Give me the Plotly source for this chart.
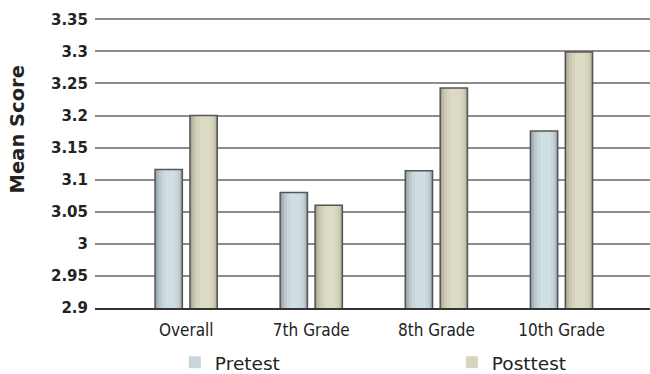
import plotly.graph_objects as go

# Mean scores by group, before and after the program
categories = ["Overall", "7th Grade", "8th Grade", "10th Grade"]
pretest = [3.116, 3.080, 3.114, 3.176]
posttest = [3.200, 3.060, 3.243, 3.299]

y_ticks = [2.9, 2.95, 3.0, 3.05, 3.1, 3.15, 3.2, 3.25, 3.3, 3.35]
y_tick_text = ["2.9", "2.95", "3", "3.05", "3.1", "3.15", "3.2", "3.25", "3.3", "3.35"]

BAR_W = 0.218          # bar width in category units
PRE_OFFSET = -0.249    # left edge of the pretest bar relative to category centre
POST_OFFSET = 0.030    # left edge of the posttest bar

# horizontal shading bands: (left fraction, right fraction, colour)
pre_shades = [
    (0.00, 1.00, "#93a1a8"),
    (0.06, 0.96, "#a9b7bd"),
    (0.14, 0.92, "#bbc9cf"),
    (0.24, 0.86, "#c8d6dc"),
    (0.36, 0.74, "#d0dde3"),
]
post_shades = [
    (0.00, 1.00, "#a6a48e"),
    (0.06, 0.96, "#bcbaa3"),
    (0.14, 0.92, "#cbc9b1"),
    (0.24, 0.86, "#d6d4bd"),
    (0.36, 0.74, "#dddbc5"),
]

fig = go.Figure()


def add_series(name, values, offset, shades, legend_idx):
    for i, (lo, hi, color) in enumerate(shades):
        fig.add_trace(go.Bar(
            x=categories, y=values,
            width=BAR_W * (hi - lo), offset=offset + BAR_W * lo,
            marker=dict(color=color, line=dict(width=0)),
            name=name, legendgroup=name,
            showlegend=(i == legend_idx),
            hoverinfo="skip" if i != 0 else None,
        ))
    # outline drawn on top of the shading
    fig.add_trace(go.Bar(
        x=categories, y=values, width=BAR_W, offset=offset,
        marker=dict(color="rgba(0,0,0,0)", line=dict(color="#555555", width=1.5)),
        name=name, legendgroup=name, showlegend=False, hoverinfo="skip",
    ))


add_series("Pretest", pretest, PRE_OFFSET, pre_shades, 3)
add_series("Posttest", posttest, POST_OFFSET, post_shades, 3)

fig.update_layout(
    width=650, height=374,
    margin=dict(l=95, r=0, t=18, b=66),
    paper_bgcolor="white", plot_bgcolor="white",
    barmode="overlay",
    showlegend=True,
    legend=dict(
        orientation="h",
        xref="container", yref="container",
        x=0.269, xanchor="left",
        y=0.03, yanchor="middle",
        entrywidth=232, entrywidthmode="pixels",
        font=dict(family="DejaVu Sans", size=18.5, color="#222222"),
        traceorder="normal",
    ),
    xaxis=dict(
        type="category",
        categoryorder="array", categoryarray=categories,
        range=[-0.729, 3.707],
        showgrid=False,
        showline=True, linecolor="#333333", linewidth=1.5,
        ticks="",
        ticklabelstandoff=6,
        tickfont=dict(family="DejaVu Sans", size=17, color="#222222"),
        fixedrange=True,
    ),
    yaxis=dict(
        range=[2.9, 3.352],
        tickvals=y_ticks, ticktext=y_tick_text,
        showgrid=True, gridcolor="#8c8c8c", gridwidth=1.5,
        zeroline=False, showline=False, ticks="",
        ticklabelstandoff=6,
        tickfont=dict(family="DejaVu Sans", size=15, color="#222222", weight="bold"),
        fixedrange=True,
    ),
    annotations=[dict(
        text="Mean Score",
        xref="paper", yref="paper",
        x=-0.1405, y=0.616,
        xanchor="center", yanchor="middle",
        textangle=-90, showarrow=False,
        font=dict(family="DejaVu Sans", size=19.5, color="#222222", weight="bold"),
    )],
)

# category labels use the condensed face of the sans family
condense_labels = """
document.querySelectorAll('.xtick text').forEach(function (t) {
    t.style.fontStretch = 'condensed';
});
"""

fig.write_html("out.html", post_script=condense_labels)
